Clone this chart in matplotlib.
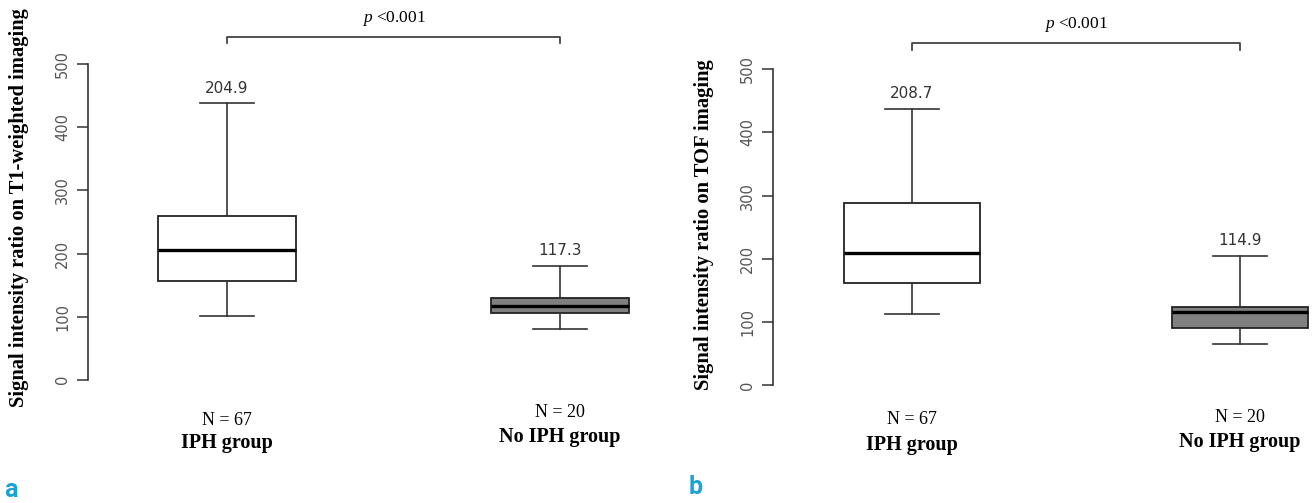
import matplotlib
matplotlib.use('Agg')
import matplotlib.pyplot as plt

plt.rcParams['mathtext.fontset'] = 'custom'
plt.rcParams['mathtext.it'] = 'Liberation Serif:italic'
plt.rcParams['mathtext.rm'] = 'Liberation Serif'

groups = ['IPH group', 'No IPH group']
n_labels = ['N = 67', 'N = 20']
medians_label = [['204.9', '117.3'], ['208.7', '114.9']]

# panel a: T1-weighted
t1_med = [204.9, 117.3]
t1_q1 = [156, 106]
t1_q3 = [259, 129.5]
t1_lo = [101, 80]
t1_hi = [438, 180]

# panel b: TOF
tof_med = [208.7, 114.9]
tof_q1 = [162, 90]
tof_q3 = [288, 123]
tof_lo = [112.5, 65]
tof_hi = [437, 204.5]

ylabels = ['Signal intensity ratio on T1-weighted imaging',
           'Signal intensity ratio on TOF imaging']
panel_tags = ['a', 'b']
fills = ['white', '#808080']

fig = plt.figure(figsize=(13.16, 5.03), dpi=100)

panels = [
    dict(rect=[0.06687, 0.2201, 0.43465, 0.6771], xlim=(0.5826, 2.3003),
         med=t1_med, q1=t1_q1, q3=t1_q3, lo=t1_lo, hi=t1_hi,
         n_y=[-65.5, -52.8], g_y=[-100.3, -90.8], br_y=543, br_tick=9.5, p_y=573,
         lab_x=0.0144, lab_y=1 - 208 / 503, tag_x=0.003, tag_y=1 - 490 / 503),
    dict(rect=[0.5874, 0.2095, 0.4126, 0.6777], xlim=(0.5762, 2.2317),
         med=tof_med, q1=tof_q1, q3=tof_q3, lo=tof_lo, hi=tof_hi,
         n_y=[-55.4, -50.7], g_y=[-95, -90.3], br_y=541.6, br_tick=11, p_y=571.7,
         lab_x=0.535, lab_y=1 - 225 / 503, tag_x=0.523, tag_y=1 - 487 / 503),
]

for k, p in enumerate(panels):
    ax = fig.add_axes(p['rect'])
    stats = []
    for i in range(2):
        stats.append(dict(med=p['med'][i], q1=p['q1'][i], q3=p['q3'][i],
                          whislo=p['lo'][i], whishi=p['hi'][i], fliers=[]))
    bp = ax.bxp(stats, positions=[1, 2], widths=0.417, capwidths=0.165,
                patch_artist=True, showfliers=False,
                boxprops=dict(edgecolor='#222222', linewidth=1.3),
                whiskerprops=dict(color='#333333', linewidth=1.2),
                capprops=dict(color='#333333', linewidth=1.2),
                medianprops=dict(color='black', linewidth=2.4))
    for patch, c in zip(bp['boxes'], fills):
        patch.set_facecolor(c)

    ax.set_xlim(*p['xlim'])
    ax.set_ylim(-20, 520)
    for s in ['top', 'right', 'bottom']:
        ax.spines[s].set_visible(False)
    ax.spines['left'].set_bounds(0, 500)
    ax.spines['left'].set_color('#333333')
    ax.spines['left'].set_linewidth(1.2)
    ax.set_xticks([])
    ax.set_yticks([0, 100, 200, 300, 400, 500])
    ax.tick_params(axis='y', length=8, width=1.1, color='#333333',
                   labelsize=10.5, labelcolor='#555555', pad=5)
    for t in ax.get_yticklabels():
        t.set_rotation(90)
        t.set_va('center')

    for i in range(2):
        ax.annotate(medians_label[k][i], xy=(i + 1, p['hi'][i]), xytext=(0, 11),
                    textcoords='offset points', ha='center', va='center',
                    fontsize=11, color='#333333', annotation_clip=False)
        ax.text(i + 1, p['n_y'][i], n_labels[i], ha='center', va='center',
                fontsize=13, family='Liberation Serif', clip_on=False)
        ax.text(i + 1, p['g_y'][i], groups[i], ha='center', va='center',
                fontsize=14.5, fontweight='bold', family='Liberation Serif', clip_on=False)

    # significance bracket
    by = p['br_y']
    ax.plot([1, 1, 2, 2], [by - p['br_tick'], by, by, by - p['br_tick']],
            color='#333333', linewidth=1.2, clip_on=False)
    ax.text(1.5, p['p_y'], r'$\it{p}$' + ' <0.001', ha='center', va='center',
            fontsize=12.5, family='Liberation Serif', clip_on=False)

    fig.text(p['lab_x'], p['lab_y'], ylabels[k], rotation=90, ha='center', va='center',
             fontsize=14.8, fontweight='bold', family='Liberation Serif')
    fig.text(p['tag_x'], p['tag_y'], panel_tags[k], ha='left', va='center',
             fontsize=18, fontweight='bold', color='#1ba3d6', family='Roboto')

fig.savefig('out.png', dpi=100)
